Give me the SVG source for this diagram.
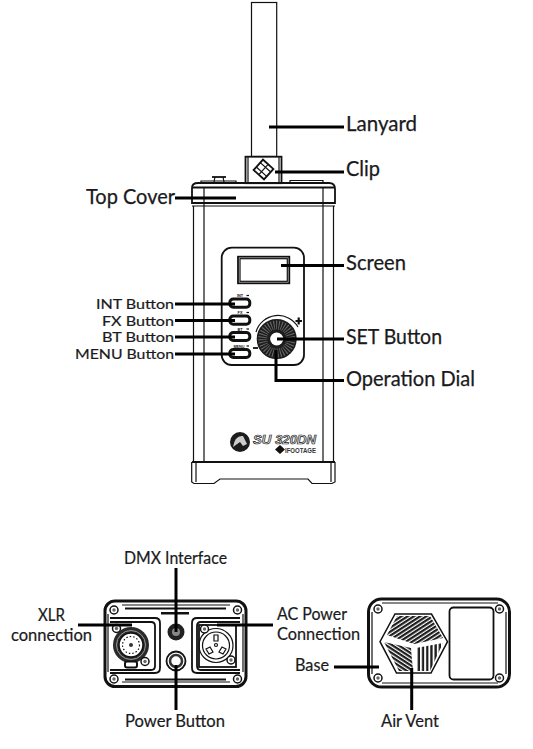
<svg xmlns="http://www.w3.org/2000/svg" width="533" height="749" viewBox="0 0 533 749">
<style>
.l{font-family:Lato,"Noto Sans",sans-serif;font-size:20.5px;fill:#1a1a1c;stroke:#1a1a1c;stroke-width:.25}
.s{font-family:Lato,"Noto Sans",sans-serif;font-size:16.5px;fill:#1a1a1c;stroke:#1a1a1c;stroke-width:.2}
.b{font-family:Lato,"Noto Sans",sans-serif;font-size:13.6px;fill:#1a1a1c;stroke:#1a1a1c;stroke-width:.2}
.o{fill:none;stroke:#111;stroke-width:1.2}
.t{fill:none;stroke:#111;stroke-width:1.8}
.k{fill:none;stroke:#111;stroke-width:3}
.m{font-family:"Liberation Sans",sans-serif;font-size:3.8px;font-weight:700;fill:#111;text-anchor:middle}
.c{fill:none;stroke:#000;stroke-width:3}
</style>
<defs>
<pattern id="h1" width="3.4" height="3.4" patternUnits="userSpaceOnUse" patternTransform="rotate(-33)"><rect width="3.4" height="3.4" fill="#fff"/><rect width="3.400" height="2.200" fill="#1c1c1c"/></pattern>
<pattern id="h2" width="3.4" height="3.4" patternUnits="userSpaceOnUse" patternTransform="rotate(33)"><rect width="3.4" height="3.4" fill="#fff"/><rect width="3.400" height="2.200" fill="#1c1c1c"/></pattern>
<pattern id="h3" width="4.2" height="4.2" patternUnits="userSpaceOnUse" patternTransform="rotate(90)"><rect width="4.2" height="4.2" fill="#fff"/><rect width="4.200" height="2.300" fill="#1c1c1c"/></pattern>
<g id="sc"><circle r="4" fill="#fff" stroke="#111" stroke-width="1.5"/><circle r="1.700" fill="#666"/></g>
</defs>

<g id="lanyard"><rect class="o" x="251.500" y="2.500" width="25.200" height="154"/></g>
<g id="clip">
<rect class="t" x="245.500" y="156.700" width="36" height="26.500" fill="#fff"/>
<path class="o" d="M248 157V183M279 157V183"/>
<g transform="translate(263.500,169.500) rotate(42)"><rect class="t" x="-7" y="-7" width="14" height="14"/><path class="o" d="M-7 -3H7M-7 3H7M0 -7V7"/></g>
</g>
<g id="body">
<path class="o" d="M193.500 206V462M333.500 206V462M204 187V462M323 187V462"/>
<path class="t" d="M192 188Q192 183 198 183H329Q335 183 335 189V203H192Z"/>
<path class="t" d="M192 187.500H335"/>
<path class="o" d="M192 206H335M201 183V181H236V183M290 183V180.500H323V183"/>
<path class="t" d="M212 177H226"/><path class="o" d="M215 177L214 182M223 177L224 182"/>
<path class="t" d="M192 462H335"/>
<path class="o" d="M191.700 462V482L194 483.500H214L220 479H308L312 483.500H332L335 482V462M196 462V482M331 462V482"/>
</g>
<g id="panel">
<rect class="t" x="221.700" y="247.700" width="82.300" height="117.300" rx="10"/>
<g id="screen"><rect class="t" x="238" y="256.700" width="51.300" height="26.600"/><rect class="o" x="240" y="258.700" width="47.300" height="22.600"/></g>
<g id="btn-int"><rect class="k" x="229.800" y="299" width="20" height="8.300" rx="3.500"/><text class="m" x="240" y="297">INT</text><path class="o" d="M246.500 295.500H249"/></g>
<g id="btn-fx"><rect class="k" x="229.800" y="316" width="20" height="8.300" rx="3.500"/><text class="m" x="240" y="314">FX</text><path class="o" d="M246.500 312.500H249"/></g>
<g id="btn-bt"><rect class="k" x="229.800" y="332.500" width="20" height="8" rx="3.500"/><text class="m" x="240" y="330.500">BT</text><path class="o" d="M246.500 329H249"/></g>
<g id="btn-menu"><rect class="k" x="229.800" y="349.500" width="20" height="8" rx="3.500"/><text class="m" x="239" y="347.500">MENU</text><path class="o" d="M246.500 346H249"/></g>
<g id="dial">
<circle cx="276.700" cy="339" r="13" fill="none" stroke="#1c1c1c" stroke-width="14"/>
<circle cx="276.700" cy="339" r="14" fill="none" stroke="#666" stroke-width="9" stroke-dasharray="1 1.500"/>
<circle cx="276.700" cy="339" r="6.500" fill="#fff"/>
<path class="o" d="M256 332A23 23 0 0 1 298 327"/>
<path d="M295.500 321H302M298.700 317.500V324.500" stroke="#111" stroke-width="2.200" fill="none"/>
<path d="M253 348H258" stroke="#111" stroke-width="1.800" fill="none"/>
</g>
</g>
<g id="logo">
<circle cx="240" cy="442" r="10" fill="#1c1c1c"/><path d="M233 447Q235 435 243 436L247 444L243 446L240 442Z" fill="#ccc"/>
<text x="253" y="444" font-family="Liberation Sans,sans-serif" font-size="13" font-weight="700" font-style="italic" fill="#e2e2e2" stroke="#222" stroke-width=".7" textLength="63" lengthAdjust="spacingAndGlyphs">SU 320DN</text>
<path d="M275 449.500L280 445L285 449.500L280 454Z" fill="#111"/>
<text x="285" y="453" font-family="Liberation Sans,sans-serif" font-size="8" font-weight="700" fill="#333" textLength="31" lengthAdjust="spacingAndGlyphs">IFOOTAGE</text>
</g>

<g id="front-panel">
<rect class="k" x="105" y="601" width="141" height="85.500" rx="10"/>
<path class="o" d="M108 614V672M243 614V672M122 605H230M122 682H230"/>
<path class="t" d="M125 608.500H226M125 679.500H226"/>
<path d="M161 612H189V614.500H161Z" fill="#111"/>
<use href="#sc" x="114" y="610"/><use href="#sc" x="237.500" y="610"/><use href="#sc" x="114" y="679"/><use href="#sc" x="237.500" y="679"/>
<g id="xlr-port">
<path class="t" d="M110 618H155Q160 618 160 623V668Q160 673 155 673H110"/>
<path class="t" d="M110 622H151Q155 622 155 626V666Q155 670 151 670H110"/>
<circle cx="131" cy="645" r="18" fill="#2a2a2a"/><circle cx="131" cy="645" r="14.500" fill="none" stroke="#999" stroke-width="1"/><circle cx="131" cy="645" r="12" fill="#fff" stroke="#111" stroke-width="1.500"/><circle cx="131" cy="645" r="8.500" class="o" stroke-dasharray="1.500 2"/><circle cx="131" cy="645" r="2" fill="#333"/>
<use href="#sc" x="116.500" y="628.500"/><use href="#sc" x="145" y="661.500"/>
<rect x="125" y="661.500" width="12" height="6" rx="2" fill="#fff" stroke="#111" stroke-width="2"/>
</g>
<g id="dmx-port"><circle cx="176" cy="632" r="8.500" fill="#222"/><circle cx="176" cy="632" r="4" fill="#888"/></g>
<g id="power-btn"><circle cx="176" cy="661" r="9.500" class="t"/><circle cx="176" cy="661" r="6" fill="#fff" stroke="#333" stroke-width="2.500"/></g>
<g id="ac-port">
<path class="t" d="M240 618H197Q192 618 192 623V668Q192 673 197 673H240"/>
<path class="t" d="M240 622H201Q197 622 197 626V666Q197 670 201 670H240"/>
<rect class="t" x="199" y="625" width="37" height="42" fill="#fff"/>
<circle cx="216" cy="645.500" r="13.500" class="o"/><circle cx="216" cy="645.500" r="17" class="o"/>
<path class="o" d="M214 635H218V641H214ZM206 649L210 647L213 652L209 654ZM226 649L222 647L219 652L223 654Z"/><circle cx="216" cy="645" r="1.500" class="o"/>
<use href="#sc" x="204.500" y="629"/><use href="#sc" x="231" y="660"/>
</g>
</g>

<g id="back-panel">
<rect class="k" x="368.500" y="599" width="141" height="88" rx="13"/>
<path class="o" d="M372 612V674M506 612V674M382 603H498M382 683H498"/>
<use href="#sc" x="378" y="609"/><use href="#sc" x="499.500" y="609"/><use href="#sc" x="378" y="678"/><use href="#sc" x="499.500" y="678"/>
<rect class="t" x="449.500" y="607.500" width="44" height="72" rx="4"/>
<g id="vent">
<path d="M395 614H431.500L447.500 641.700L431 673H396.500L380 641.700Z" fill="#fff" stroke="#111" stroke-width="1.500"/>
<path d="M397 616H430L443 638L414 644L387 635Z" fill="url(#h1)"/>
<path d="M384 642L411 648L413 671H399Z" fill="url(#h2)"/>
<path d="M416 648L443 643L430 671H416Z" fill="url(#h3)"/>
</g>
</g>

<g id="connectors">
<path class="c" d="M269 127H344"/>
<path class="c" d="M275 172H344"/>
<path class="c" d="M175 198H236"/>
<path class="c" d="M281 265.500H344"/>
<path class="c" d="M175 304H235"/>
<path class="c" d="M175 320.500H235"/>
<path class="c" d="M175 337H235"/>
<path class="c" d="M175 354H235"/>
<path class="c" d="M277 339H344"/>
<path class="c" d="M276 350V380.500H344"/>
<path class="c" d="M176 568V632"/>
<path class="c" d="M78 625H132"/>
<path class="c" d="M217 625H273"/>
<path class="c" d="M176 665V710"/>
<path class="c" d="M334 667H379"/>
<path class="c" d="M411.700 668V710"/>
</g>

<g id="labels">
<text class="l" x="346" y="131" textLength="71" lengthAdjust="spacingAndGlyphs">Lanyard</text>
<text class="l" x="346" y="176" textLength="34" lengthAdjust="spacingAndGlyphs">Clip</text>
<text class="l" x="86" y="204" textLength="89" lengthAdjust="spacingAndGlyphs">Top Cover</text>
<text class="l" x="346" y="270" textLength="60" lengthAdjust="spacingAndGlyphs">Screen</text>
<text class="b" x="96" y="309" textLength="78" lengthAdjust="spacingAndGlyphs">INT Button</text>
<text class="b" x="102" y="325.500" textLength="72" lengthAdjust="spacingAndGlyphs">FX Button</text>
<text class="b" x="102" y="342" textLength="72" lengthAdjust="spacingAndGlyphs">BT Button</text>
<text class="b" x="75" y="359" textLength="99" lengthAdjust="spacingAndGlyphs">MENU Button</text>
<text class="l" x="346" y="344" textLength="96" lengthAdjust="spacingAndGlyphs">SET Button</text>
<text class="l" x="346" y="386" textLength="129" lengthAdjust="spacingAndGlyphs">Operation Dial</text>
<text class="s" x="124" y="564" textLength="103" lengthAdjust="spacingAndGlyphs">DMX Interface</text>
<text class="s" x="38" y="621" textLength="27" lengthAdjust="spacingAndGlyphs">XLR</text>
<text class="s" x="11" y="641" textLength="81" lengthAdjust="spacingAndGlyphs">connection</text>
<text class="s" x="277" y="620" textLength="70" lengthAdjust="spacingAndGlyphs">AC Power</text>
<text class="s" x="277" y="640" textLength="83" lengthAdjust="spacingAndGlyphs">Connection</text>
<text class="s" x="295" y="671" textLength="34" lengthAdjust="spacingAndGlyphs">Base</text>
<text class="s" x="125" y="727" textLength="100" lengthAdjust="spacingAndGlyphs">Power Button</text>
<text class="s" x="381" y="727" textLength="58" lengthAdjust="spacingAndGlyphs">Air Vent</text>
</g>
</svg>
